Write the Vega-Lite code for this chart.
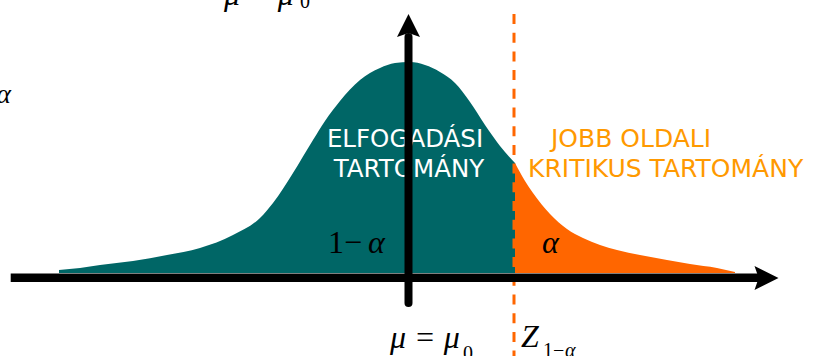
{
  "$schema": "https://vega.github.io/schema/vega-lite/v6.json",
  "width": 820,
  "height": 356,
  "padding": 0,
  "autosize": "none",
  "background": "white",
  "config": {"view": {"stroke": null}, "axis": {"disable": true}},
  "datasets": {
    "curve": [
      {"x": 59, "h": 3, "region": "accept"},
      {"x": 80, "h": 5, "region": "accept"},
      {"x": 100, "h": 8, "region": "accept"},
      {"x": 133, "h": 12, "region": "accept"},
      {"x": 167, "h": 18, "region": "accept"},
      {"x": 200, "h": 25, "region": "accept"},
      {"x": 233, "h": 38, "region": "accept"},
      {"x": 260, "h": 55, "region": "accept"},
      {"x": 273, "h": 70, "region": "accept"},
      {"x": 293, "h": 100, "region": "accept"},
      {"x": 313, "h": 133, "region": "accept"},
      {"x": 325, "h": 152, "region": "accept"},
      {"x": 340, "h": 172, "region": "accept"},
      {"x": 360, "h": 193, "region": "accept"},
      {"x": 380, "h": 205, "region": "accept"},
      {"x": 395, "h": 210, "region": "accept"},
      {"x": 410, "h": 211, "region": "accept"},
      {"x": 425, "h": 208, "region": "accept"},
      {"x": 440, "h": 201, "region": "accept"},
      {"x": 455, "h": 190, "region": "accept"},
      {"x": 470, "h": 171, "region": "accept"},
      {"x": 485, "h": 148, "region": "accept"},
      {"x": 500, "h": 127, "region": "accept"},
      {"x": 515, "h": 110, "region": "accept"},
      {"x": 515, "h": 110, "region": "critical"},
      {"x": 525, "h": 92, "region": "critical"},
      {"x": 533, "h": 80, "region": "critical"},
      {"x": 550, "h": 59, "region": "critical"},
      {"x": 567, "h": 44, "region": "critical"},
      {"x": 583, "h": 35, "region": "critical"},
      {"x": 600, "h": 28, "region": "critical"},
      {"x": 617, "h": 23, "region": "critical"},
      {"x": 640, "h": 18, "region": "critical"},
      {"x": 667, "h": 13, "region": "critical"},
      {"x": 690, "h": 9, "region": "critical"},
      {"x": 717, "h": 5, "region": "critical"},
      {"x": 735, "h": 1, "region": "critical"}
    ],
    "labels": [
      {"text": "ELFOGADÁSI", "x": 405, "y": 125.7, "kind": "white"},
      {"text": "TARTOMÁNY", "x": 409, "y": 96.3, "kind": "white"},
      {"text": "JOBB OLDALI", "x": 551, "y": 126, "kind": "orange"},
      {"text": "KRITIKUS TARTOMÁNY", "x": 528, "y": 96, "kind": "orange"},
      {"text": "1−", "x": 328, "y": 20.3, "kind": "serif32"},
      {"text": "α", "x": 368, "y": 20.3, "kind": "italic32"},
      {"text": "α", "x": 542, "y": 20.3, "kind": "italic32"},
      {"text": "μ = μ", "x": 390, "y": -75, "kind": "italic32"},
      {"text": "0", "x": 463, "y": -87, "kind": "serif20"},
      {"text": "Z", "x": 521, "y": -74, "kind": "italic32"},
      {"text": "1−", "x": 543, "y": -84, "kind": "serif20"},
      {"text": "α", "x": 565, "y": -84, "kind": "italic20"},
      {"text": "μ = μ", "x": 224, "y": 268, "kind": "italic32"},
      {"text": "0", "x": 300, "y": 265, "kind": "serif20"},
      {"text": "α", "x": 11, "y": 170, "kind": "italic32r"}
    ],
    "lines": [
      {"name": "dash", "x": 514, "x2": 514, "y": 259, "y2": -90},
      {"name": "vaxis", "x": 408.5, "x2": 408.5, "y": 236, "y2": -30},
      {"name": "haxis", "x": 10.7, "x2": 762, "y": -4.8, "y2": -4.8}
    ],
    "heads": [
      {"name": "up", "x": 408.5, "y": 247.5},
      {"name": "right", "x": 766.5, "y": -5}
    ]
  },
  "layer": [
    {
      "data": {"name": "curve"},
      "transform": [{"filter": "datum.region === 'accept'"}],
      "mark": {"type": "area", "color": "#006666", "interpolate": "monotone", "opacity": 1},
      "encoding": {
        "x": {"field": "x", "type": "quantitative", "scale": {"domain": [0, 820], "nice": false, "zero": false}},
        "y": {"field": "h", "type": "quantitative", "scale": {"domain": [-83, 273], "nice": false, "zero": false}}
      }
    },
    {
      "data": {"name": "curve"},
      "transform": [{"filter": "datum.region === 'critical'"}],
      "mark": {"type": "area", "color": "#FF6600", "interpolate": "monotone", "opacity": 1},
      "encoding": {
        "x": {"field": "x", "type": "quantitative"},
        "y": {"field": "h", "type": "quantitative"}
      }
    },
    {
      "data": {"name": "lines"},
      "transform": [{"filter": "datum.name === 'dash'"}],
      "mark": {"type": "rule", "color": "#FF6600", "strokeWidth": 3, "strokeDash": [10, 8.7]},
      "encoding": {
        "x": {"field": "x", "type": "quantitative"},
        "y": {"field": "y", "type": "quantitative"},
        "y2": {"field": "y2"}
      }
    },
    {
      "data": {"name": "labels"},
      "transform": [{"filter": "datum.kind === 'white'"}],
      "mark": {"type": "text", "font": "DejaVu Sans", "fontSize": 24.5, "color": "white", "align": "center", "baseline": "alphabetic"},
      "encoding": {
        "x": {"field": "x", "type": "quantitative"},
        "y": {"field": "y", "type": "quantitative"},
        "text": {"field": "text"}
      }
    },
    {
      "data": {"name": "labels"},
      "transform": [{"filter": "datum.kind === 'orange'"}],
      "mark": {"type": "text", "font": "DejaVu Sans", "fontSize": 25, "color": "#FF9900", "align": "left", "baseline": "alphabetic"},
      "encoding": {
        "x": {"field": "x", "type": "quantitative"},
        "y": {"field": "y", "type": "quantitative"},
        "text": {"field": "text"}
      }
    },
    {
      "data": {"name": "labels"},
      "transform": [{"filter": "datum.kind === 'serif32'"}],
      "mark": {"type": "text", "font": "Liberation Serif", "fontSize": 32, "color": "black", "align": "left", "baseline": "alphabetic"},
      "encoding": {
        "x": {"field": "x", "type": "quantitative"},
        "y": {"field": "y", "type": "quantitative"},
        "text": {"field": "text"}
      }
    },
    {
      "data": {"name": "labels"},
      "transform": [{"filter": "datum.kind === 'italic32'"}],
      "mark": {"type": "text", "font": "Liberation Serif", "fontStyle": "italic", "fontSize": 32, "color": "black", "align": "left", "baseline": "alphabetic"},
      "encoding": {
        "x": {"field": "x", "type": "quantitative"},
        "y": {"field": "y", "type": "quantitative"},
        "text": {"field": "text"}
      }
    },
    {
      "data": {"name": "labels"},
      "transform": [{"filter": "datum.kind === 'italic32r'"}],
      "mark": {"type": "text", "font": "Liberation Serif", "fontStyle": "italic", "fontSize": 28, "color": "black", "align": "right", "baseline": "alphabetic"},
      "encoding": {
        "x": {"field": "x", "type": "quantitative"},
        "y": {"field": "y", "type": "quantitative"},
        "text": {"field": "text"}
      }
    },
    {
      "data": {"name": "labels"},
      "transform": [{"filter": "datum.kind === 'serif20'"}],
      "mark": {"type": "text", "font": "Liberation Serif", "fontSize": 20, "color": "black", "align": "left", "baseline": "alphabetic"},
      "encoding": {
        "x": {"field": "x", "type": "quantitative"},
        "y": {"field": "y", "type": "quantitative"},
        "text": {"field": "text"}
      }
    },
    {
      "data": {"name": "labels"},
      "transform": [{"filter": "datum.kind === 'italic20'"}],
      "mark": {"type": "text", "font": "Liberation Serif", "fontStyle": "italic", "fontSize": 20, "color": "black", "align": "left", "baseline": "alphabetic"},
      "encoding": {
        "x": {"field": "x", "type": "quantitative"},
        "y": {"field": "y", "type": "quantitative"},
        "text": {"field": "text"}
      }
    },
    {
      "data": {"name": "lines"},
      "transform": [{"filter": "datum.name === 'vaxis'"}],
      "mark": {"type": "rule", "color": "black", "strokeWidth": 8, "strokeCap": "round"},
      "encoding": {
        "x": {"field": "x", "type": "quantitative"},
        "y": {"field": "y", "type": "quantitative"},
        "y2": {"field": "y2"}
      }
    },
    {
      "data": {"name": "lines"},
      "transform": [{"filter": "datum.name === 'haxis'"}],
      "mark": {"type": "rule", "color": "black", "strokeWidth": 8.5, "strokeCap": "butt"},
      "encoding": {
        "x": {"field": "x", "type": "quantitative"},
        "x2": {"field": "x2"},
        "y": {"field": "y", "type": "quantitative"}
      }
    },
    {
      "data": {"name": "heads"},
      "transform": [{"filter": "datum.name === 'up'"}],
      "mark": {"type": "point", "shape": "M0,-1 L-1,1 L0,0.65 L1,1 Z", "size": 529, "filled": true, "color": "black", "opacity": 1, "strokeWidth": 0},
      "encoding": {
        "x": {"field": "x", "type": "quantitative"},
        "y": {"field": "y", "type": "quantitative"}
      }
    },
    {
      "data": {"name": "heads"},
      "transform": [{"filter": "datum.name === 'right'"}],
      "mark": {"type": "point", "shape": "M1,0 L-1,-1 L-0.65,0 L-1,1 Z", "size": 576, "filled": true, "color": "black", "opacity": 1, "strokeWidth": 0},
      "encoding": {
        "x": {"field": "x", "type": "quantitative"},
        "y": {"field": "y", "type": "quantitative"}
      }
    }
  ]
}
